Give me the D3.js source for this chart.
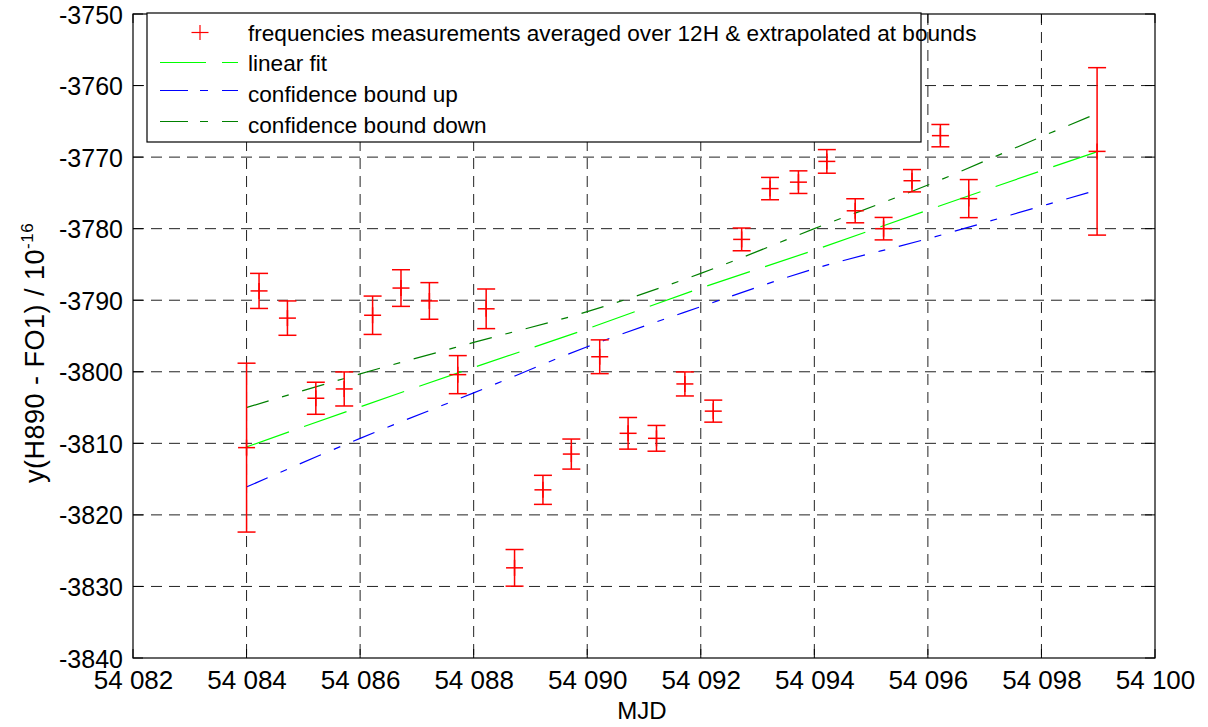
<!DOCTYPE html>
<html><head><meta charset="utf-8">
<script src="https://cdn.jsdelivr.net/npm/d3@7"></script>
<style>
body{margin:0;background:#fff}
text{font-family:Arial,"Liberation Sans",Helvetica,sans-serif;fill:#000}
</style>
</head><body>
<svg id="chart" width="1208" height="727"></svg>
<script>
// ---------------- data ----------------
const mjd = [54084.0, 54084.22, 54084.72, 54085.22, 54085.72, 54086.22, 54086.72, 54087.22, 54087.72,
  54088.22, 54088.72, 54089.22, 54089.72, 54090.22, 54090.72, 54091.22, 54091.72, 54092.22, 54092.72,
  54093.22, 54093.72, 54094.22, 54094.72, 54095.22, 54095.72, 54096.22, 54096.72, 54098.98];
const freq = [-3810.6, -3788.7, -3792.5, -3803.7, -3802.4, -3792.1, -3788.3, -3790.1, -3800.4,
  -3791.2, -3827.4, -3816.5, -3811.5, -3797.9, -3808.6, -3809.3, -3801.7, -3805.5, -3781.5,
  -3774.4, -3773.5, -3770.6, -3777.5, -3780.0, -3773.3, -3767.0, -3775.8, -3769.2];
const freqErr = [11.8, 2.45, 2.4, 2.24, 2.38, 2.68, 2.56, 2.56, 2.66,
  2.77, 2.56, 2.03, 2.1, 2.36, 2.21, 1.8, 1.68, 1.54, 1.59,
  1.56, 1.58, 1.65, 1.68, 1.57, 1.56, 1.56, 2.66, 11.7];

const fitX = [54084, 54086, 54088, 54090, 54092, 54094, 54096, 54098, 54098.98];
const fitY = [-3810.5, -3804.9, -3799.4, -3794.0, -3788.3, -3783.0, -3777.4, -3771.9, -3769.25];
const boundUpY = [-3816.1, -3809.3, -3802.95, -3796.5, -3790.9, -3785.6, -3781.4, -3776.85, -3774.6];
const boundDownY = [-3805.0, -3800.3, -3795.9, -3791.6, -3786.25, -3780.0, -3773.9, -3767.15, -3763.9];

const xTicks = [54082, 54084, 54086, 54088, 54090, 54092, 54094, 54096, 54098, 54100];
const xTickLabels = ["54 082", "54 084", "54 086", "54 088", "54 090", "54 092", "54 094", "54 096", "54 098", "54 100"];
const yTicks = [-3840, -3830, -3820, -3810, -3800, -3790, -3780, -3770, -3760, -3750];
const yTickLabels = ["-3840", "-3830", "-3820", "-3810", "-3800", "-3790", "-3780", "-3770", "-3760", "-3750"];

const legendLabels = ["frequencies measurements averaged over 12H & extrapolated at bounds",
  "linear fit", "confidence bound up", "confidence bound down"];

// ---------------- layout ----------------
const svg = d3.select("#chart");
const L = 133, R = 1155, T = 14, B = 658;
const x = d3.scaleLinear().domain([54082, 54100]).range([L, R]);
const y = d3.scaleLinear().domain([-3840, -3750]).range([B, T]);

// grid
const grid = svg.append("g");
grid.selectAll("line.vg").data(xTicks.slice(1, -1)).join("line")
  .attr("x1", d => x(d)).attr("x2", d => x(d)).attr("y1", T).attr("y2", B)
  .attr("stroke", "#222").attr("stroke-width", 1).attr("stroke-dasharray", "11,7");
grid.selectAll("line.hg").data(yTicks.slice(1, -1)).join("line")
  .attr("x1", L).attr("x2", R).attr("y1", d => y(d)).attr("y2", d => y(d))
  .attr("stroke", "#222").attr("stroke-width", 1).attr("stroke-dasharray", "11,7");

// fit lines
const mkLine = ys => d3.line().x((d, i) => x(fitX[i])).y(d => y(d)).curve(d3.curveMonotoneX)(ys);
svg.append("path").attr("d", mkLine(fitY)).attr("fill", "none")
  .attr("stroke", "#00ff00").attr("stroke-width", 1.2).attr("stroke-dasharray", "45,16");
svg.append("path").attr("d", mkLine(boundUpY)).attr("fill", "none")
  .attr("stroke", "#0000ff").attr("stroke-width", 1.2).attr("stroke-dasharray", "23,14,7,14");
svg.append("path").attr("d", mkLine(boundDownY)).attr("fill", "none")
  .attr("stroke", "#008000").attr("stroke-width", 1.2).attr("stroke-dasharray", "23,14,7,14");

// error bars
const eb = svg.append("g").attr("stroke", "#ff0000").attr("stroke-width", 1.5).attr("fill", "none");
const pts = mjd.map((m, i) => ({m, v: freq[i], e: freqErr[i]}));
const g = eb.selectAll("g").data(pts).join("g");
g.append("line").attr("x1", d => x(d.m)).attr("x2", d => x(d.m))
  .attr("y1", d => y(d.v + d.e)).attr("y2", d => y(d.v - d.e));
g.append("line").attr("x1", d => x(d.m) - 9).attr("x2", d => x(d.m) + 9)
  .attr("y1", d => y(d.v + d.e)).attr("y2", d => y(d.v + d.e));
g.append("line").attr("x1", d => x(d.m) - 9).attr("x2", d => x(d.m) + 9)
  .attr("y1", d => y(d.v - d.e)).attr("y2", d => y(d.v - d.e));
g.append("line").attr("x1", d => x(d.m) - 8.5).attr("x2", d => x(d.m) + 8.5)
  .attr("y1", d => y(d.v)).attr("y2", d => y(d.v));
g.append("line").attr("x1", d => x(d.m)).attr("x2", d => x(d.m))
  .attr("y1", d => y(d.v) - 8).attr("y2", d => y(d.v) + 8);

// axes box + ticks
const ax = svg.append("g");
ax.append("rect").attr("x", L).attr("y", T).attr("width", R - L).attr("height", B - T)
  .attr("fill", "none").attr("stroke", "#000").attr("stroke-width", 1.2);
const xb = d3.axisBottom(x).tickValues(xTicks).tickSize(0).tickPadding(0).tickFormat((d, i) => xTickLabels[i]);
const xg = ax.append("g").attr("transform", `translate(0,${B})`).call(xb);
xg.select(".domain").remove();
xg.selectAll("text").attr("dy", null).attr("y", 31).style("font-size", "26px")
  .style("font-family", "Arial, 'Liberation Sans', sans-serif").attr("fill", "#000");
const yl = d3.axisLeft(y).tickValues(yTicks).tickSize(0).tickPadding(0).tickFormat((d, i) => yTickLabels[i]);
const yg = ax.append("g").attr("transform", `translate(${L},0)`).call(yl);
yg.select(".domain").remove();
yg.selectAll("text").attr("x", -10).attr("dy", "0.36em").style("font-size", "25px")
  .style("font-family", "Arial, 'Liberation Sans', sans-serif").attr("fill", "#000");
// inward ticks on all sides
const tk = ax.append("g").attr("stroke", "#000").attr("stroke-width", 1);
xTicks.forEach(t => {
  tk.append("line").attr("x1", x(t)).attr("x2", x(t)).attr("y1", B).attr("y2", B - 9);
  tk.append("line").attr("x1", x(t)).attr("x2", x(t)).attr("y1", T).attr("y2", T + 9);
});
yTicks.forEach(t => {
  tk.append("line").attr("x1", L).attr("x2", L + 10).attr("y1", y(t)).attr("y2", y(t));
  tk.append("line").attr("x1", R).attr("x2", R - 10).attr("y1", y(t)).attr("y2", y(t));
});

// axis titles
svg.append("text").attr("x", (L + R) / 2 - 2).attr("y", 719).attr("text-anchor", "middle")
  .style("font-size", "24px").text("MJD");
const yt = svg.append("text").attr("transform", "translate(44,483) rotate(-90)")
  .style("font-size", "27px").style("letter-spacing", "0.5px");
yt.append("tspan").text("y(H890 - FO1) / 10");
yt.append("tspan").attr("dy", -11).style("font-size", "17px").text("-16");

// legend
const lg = svg.append("g");
lg.append("rect").attr("x", 147).attr("y", 13).attr("width", 774).attr("height", 129)
  .attr("fill", "#fff").attr("stroke", "#000").attr("stroke-width", 1.2);
const baselines = [40.5, 70.5, 102, 132.5];
const lineYs = [32.5, 62.5, 90.5, 121.5];
legendLabels.forEach((t, i) => {
  lg.append("text").attr("x", 248).attr("y", baselines[i]).style("font-size", "22.6px").text(t);
});
lg.append("line").attr("x1", 191.5).attr("x2", 208.5).attr("y1", lineYs[0]).attr("y2", lineYs[0]).attr("stroke", "#ff0000").attr("stroke-width", 1.2);
lg.append("line").attr("x1", 200).attr("x2", 200).attr("y1", lineYs[0] - 7.5).attr("y2", lineYs[0] + 7.5).attr("stroke", "#ff0000").attr("stroke-width", 1.2);
lg.append("line").attr("x1", 160).attr("x2", 238).attr("y1", lineYs[1]).attr("y2", lineYs[1])
  .attr("stroke", "#00ff00").attr("stroke-width", 1.2).attr("stroke-dasharray", "46,16");
lg.append("line").attr("x1", 160).attr("x2", 238).attr("y1", lineYs[2]).attr("y2", lineYs[2])
  .attr("stroke", "#0000ff").attr("stroke-width", 1.2).attr("stroke-dasharray", "28,12,8,14");
lg.append("line").attr("x1", 160).attr("x2", 238).attr("y1", lineYs[3]).attr("y2", lineYs[3])
  .attr("stroke", "#008000").attr("stroke-width", 1.2).attr("stroke-dasharray", "28,12,8,14");
</script>
</body></html>
